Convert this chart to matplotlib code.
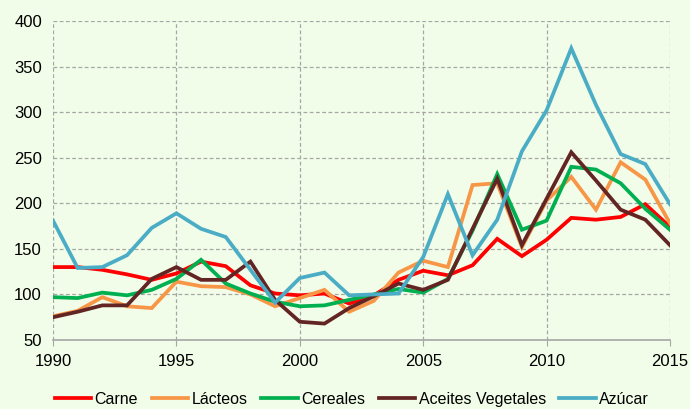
import matplotlib.pyplot as plt

years = list(range(1990, 2016))
carne = [130, 130, 127, 122, 116, 123, 136, 131, 110, 101, 99, 101, 90, 99, 116, 126, 121, 132, 161, 142, 160, 184, 182, 185, 199, 174]
lacteos = [76, 82, 97, 87, 85, 114, 109, 108, 100, 87, 96, 105, 81, 93, 124, 137, 130, 220, 222, 152, 203, 229, 193, 245, 226, 178]
cereales = [97, 96, 102, 99, 105, 117, 138, 112, 101, 92, 87, 88, 94, 100, 106, 102, 117, 170, 232, 171, 181, 240, 237, 222, 194, 171]
aceites = [75, 81, 88, 88, 117, 130, 116, 116, 136, 94, 70, 68, 85, 98, 112, 105, 116, 172, 227, 154, 205, 256, 225, 193, 182, 154]
azucar = [181, 129, 130, 143, 173, 189, 172, 163, 127, 91, 118, 124, 99, 100, 101, 141, 210, 143, 182, 257, 302, 370, 308, 254, 243, 199]

labels = ["Carne", "Lácteos", "Cereales", "Aceites Vegetales", "Azúcar"]
colors = ["#FF0000", "#F79646", "#00B050", "#632523", "#4BACC6"]

plt.rcParams['font.family'] = ['Liberation Sans', 'DejaVu Sans']
plt.rcParams['font.size'] = 12

bg = "#F1FDE8"
fig = plt.figure(figsize=(6.9, 4.09), dpi=100, facecolor=bg)
ax = fig.add_axes([0.0768, 0.1687, 0.8942, 0.78])
ax.set_facecolor(bg)

for series, lab, c in zip([carne, lacteos, cereales, aceites, azucar], labels, colors):
    ax.plot(years, series, color=c, linewidth=2.7, label=lab, solid_joinstyle='miter')

ax.set_xlim(1990, 2015)
ax.set_ylim(50, 400)
ax.set_xticks(range(1990, 2016, 5))
ax.set_yticks(range(50, 401, 50))
ax.grid(True, color="#A6A6A6", linestyle=(0, (3, 2)), linewidth=0.9)
for s in ['top', 'left', 'right']:
    ax.spines[s].set_visible(False)
ax.spines['bottom'].set_color("#A6A6A6")
ax.spines['bottom'].set_linewidth(1.2)
ax.tick_params(axis='x', length=4, color="#A6A6A6", pad=6, labelsize=12)
ax.tick_params(axis='y', length=0, pad=8, labelsize=12)

fig.legend(loc='lower center', bbox_to_anchor=(0.51, -0.03), ncol=5, frameon=False,
           handlelength=2.3, handletextpad=0.2, columnspacing=0.85, fontsize=11.5)

fig.savefig("out.png", dpi=100, facecolor=bg)
